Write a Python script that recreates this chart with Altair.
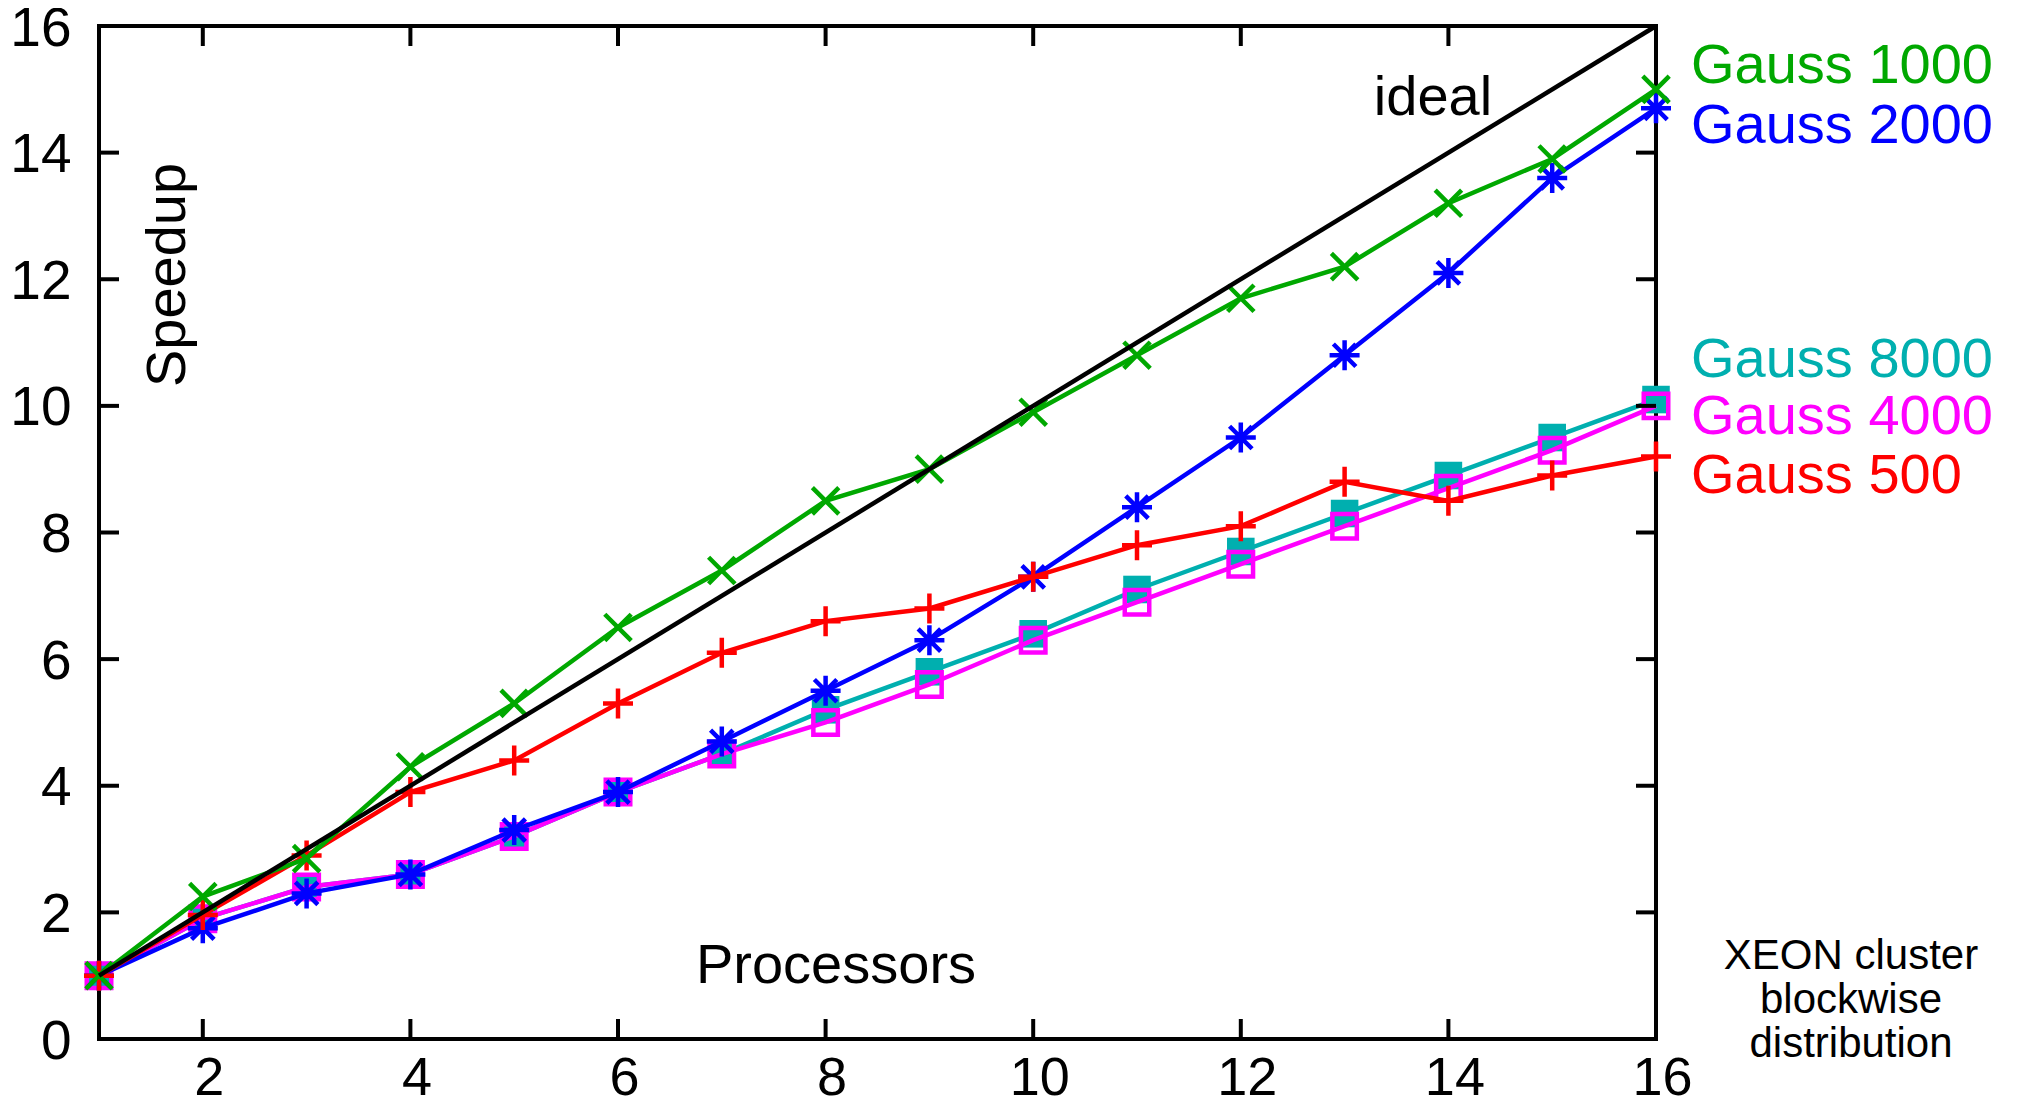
import altair as alt
import pandas as pd

# ---- data ----
procs = list(range(1, 17))
g500 = [1.0, 1.96, 2.9, 3.9, 4.4, 5.3, 6.1, 6.6, 6.8, 7.3, 7.8, 8.1, 8.8, 8.5, 8.9, 9.2]
g1000 = [1.0, 2.25, 2.85, 4.3, 5.3, 6.5, 7.4, 8.5, 9.0, 9.9, 10.8, 11.7, 12.2, 13.2, 13.9, 15.0]
g2000 = [1.0, 1.75, 2.3, 2.6, 3.3, 3.9, 4.7, 5.5, 6.3, 7.3, 8.4, 9.5, 10.8, 12.1, 13.6, 14.7]
g4000 = [1.0, 1.9, 2.4, 2.6, 3.2, 3.9, 4.5, 5.0, 5.6, 6.3, 6.9, 7.5, 8.1, 8.7, 9.3, 10.0]
g8000 = [1.0, 1.9, 2.4, 2.6, 3.2, 3.9, 4.5, 5.2, 5.8, 6.4, 7.1, 7.7, 8.3, 8.9, 9.5, 10.1]
ideal_x = [1, 16]
ideal_y = [1, 16]
x_ticks = [2, 4, 6, 8, 10, 12, 14, 16]
y_ticks = [0, 2, 4, 6, 8, 10, 12, 14, 16]

W, H = 1557, 1013
FONT = "Liberation Sans"
FS = 56
TICK = 20
LW = 4.5

xs = alt.Scale(domain=[1, 16], nice=False, zero=False)
ys = alt.Scale(domain=[0, 16], nice=False, zero=False)
x_axis = alt.Axis(values=x_ticks, domain=False, ticks=False, grid=False,
                  labelFont=FONT, labelFontSize=54, labelColor="black",
                  labelPadding=12, labelOffset=6, labelFlush=False, title=None)
y_axis = alt.Axis(values=y_ticks, domain=False, ticks=False, grid=False,
                  labelFont=FONT, labelFontSize=55, labelColor="black",
                  labelPadding=28, labelOffset=2, labelFlush=False, title=None)


def X(field):
    return alt.X(field, scale=xs, axis=x_axis, title=None)


def Y(field):
    return alt.Y(field, scale=ys, axis=y_axis, title=None)


PLUS = "M-1,0L1,0M0,-1L0,1"
XCROSS = "M-1,-1L1,1M-1,1L1,-1"
STAR = "M-1,0L1,0M0,-1L0,1M-0.75,-0.75L0.75,0.75M-0.75,0.75L0.75,-0.75"

series = [
    # name, values, color, shape, filled, size
    ("Gauss 8000", g8000, "#00AFAF", "square", True, 760),
    ("Gauss 4000", g4000, "#FF00FF", "square", False, 600),
    ("Gauss 2000", g2000, "#0000FF", STAR, False, 900),
    ("Gauss 500", g500, "#FF0000", PLUS, False, 900),
    ("Gauss 1000", g1000, "#00A800", XCROSS, False, 700),
]

layers = []
for name, vals, col, shape, filled, size in series:
    df = pd.DataFrame({"p": procs, "s": vals})
    base = alt.Chart(df)
    line = base.mark_line(color=col, strokeWidth=LW).encode(x=X("p:Q"), y=Y("s:Q"))
    if filled:
        pts = base.mark_point(shape=shape, filled=True, color=col, size=size, opacity=1)
    else:
        pts = base.mark_point(shape=shape, filled=False, color=col, size=size,
                              strokeWidth=LW, opacity=1)
    pts = pts.encode(x=X("p:Q"), y=Y("s:Q"))
    layers += [line, pts]

ideal = alt.Chart(pd.DataFrame({"p": ideal_x, "s": ideal_y})).mark_line(
    color="black", strokeWidth=LW).encode(x=X("p:Q"), y=Y("s:Q"))
layers.append(ideal)

xt = alt.Chart(pd.DataFrame({"t": x_ticks}))
yt = alt.Chart(pd.DataFrame({"t": y_ticks}))
tick_style = dict(color="black", strokeWidth=4)
layers += [
    xt.mark_rule(**tick_style).encode(x=X("t:Q"), y=alt.value(H), y2=alt.value(H - TICK)),
    xt.mark_rule(**tick_style).encode(x=X("t:Q"), y=alt.value(0), y2=alt.value(TICK)),
    yt.mark_rule(**tick_style).encode(y=Y("t:Q"), x=alt.value(0), x2=alt.value(TICK)),
    yt.mark_rule(**tick_style).encode(y=Y("t:Q"), x=alt.value(W), x2=alt.value(W - TICK)),
]

one = pd.DataFrame({"a": [0]})


def txt(text, x, y, color="black", size=FS, align="left", angle=0):
    kw = dict(text=text, font=FONT, fontSize=size, color=color, align=align, baseline="middle")
    if angle:
        kw["angle"] = angle
    return alt.Chart(one).mark_text(**kw).encode(x=alt.value(x), y=alt.value(y))


layers += [
    txt("Gauss 1000", W + 35, 40, "#00A800"),
    txt("Gauss 2000", W + 35, 100, "#0000FF"),
    txt("Gauss 8000", W + 35, 334, "#00AFAF"),
    txt("Gauss 4000", W + 35, 391, "#FF00FF"),
    txt("Gauss 500", W + 35, 450, "#FF0000"),
    txt("ideal", 1334, 72, align="center"),
    txt("Speedup", 69, 249, align="center", angle=270),
    txt("Processors", 737, 940, align="center"),
    txt("XEON cluster", 1752, 930, size=42, align="center"),
    txt("blockwise", 1752, 974, size=42, align="center"),
    txt("distribution", 1752, 1018, size=42, align="center"),
]

chart = alt.layer(*layers).properties(
    width=W, height=H,
    autosize=alt.AutoSizeParams(type="none"),
    padding={"left": 91, "top": 18, "right": 345, "bottom": 66},
).configure(background="white").configure_view(stroke="black", strokeWidth=4)

chart.save("out.html", embed_options={"renderer": "svg", "actions": False})
